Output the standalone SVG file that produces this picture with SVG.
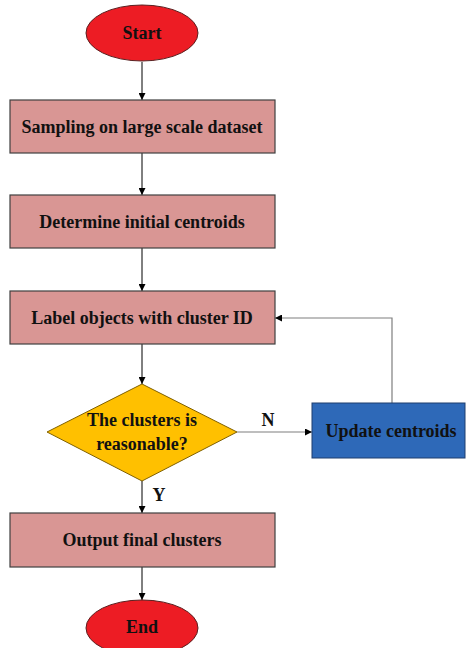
<svg xmlns="http://www.w3.org/2000/svg" width="467" height="648" viewBox="0 0 467 648">
<defs>
<marker id="ah" viewBox="0 0 8 8" refX="8" refY="4" markerWidth="7" markerHeight="7" markerUnits="userSpaceOnUse" orient="auto">
<path d="M0,0 L8,4 L0,8 z" fill="#000"/>
</marker>
</defs>
<style>
.t{font-family:"Liberation Serif","Times New Roman",serif;font-weight:bold;font-size:18px;fill:#111;text-anchor:middle;dominant-baseline:central}
.box{fill:#D99694;stroke:#404040;stroke-width:1.2}
.term{fill:#ED1C24;stroke:#5a2020;stroke-width:1}
.c{fill:none;stroke:#000;stroke-width:1}
.g{fill:none;stroke:#7f7f7f;stroke-width:1.2}
</style>
<rect width="467" height="648" fill="#fff"/>
<g id="connectors">
<path class="c" d="M142,62 V100" marker-end="url(#ah)"/>
<path class="c" d="M142,153 V195" marker-end="url(#ah)"/>
<path class="c" d="M142,248 V291" marker-end="url(#ah)"/>
<path class="c" d="M142,344 V384" marker-end="url(#ah)"/>
<path class="g" d="M237,432 H312" marker-end="url(#ah)"/>
<path class="g" d="M392,403 V318 H275" marker-end="url(#ah)"/>
<path class="c" d="M142,481 V513" marker-end="url(#ah)"/>
<path class="c" d="M142,567 V600" marker-end="url(#ah)"/>
<text class="t" x="268" y="420">N</text>
<text class="t" x="159" y="495">Y</text>
</g>
<g id="start">
<ellipse class="term" cx="142" cy="33" rx="56" ry="28"/>
<text class="t" x="142" y="33">Start</text>
</g>
<g id="sampling">
<rect class="box" x="10" y="100" width="265" height="53"/>
<text class="t" x="142" y="127">Sampling on large scale dataset</text>
</g>
<g id="init">
<rect class="box" x="10" y="195" width="265" height="53"/>
<text class="t" x="142" y="222">Determine initial centroids</text>
</g>
<g id="label">
<rect class="box" x="10" y="291" width="265" height="53"/>
<text class="t" x="142" y="318">Label objects with cluster ID</text>
</g>
<g id="decision">
<polygon points="142,384 237,432 142,481 47,432" fill="#FFC000" stroke="#7f6000" stroke-width="1"/>
<text class="t" x="142" y="420">The clusters is</text>
<text class="t" x="142" y="444">reasonable?</text>
</g>
<g id="update">
<rect x="312" y="403" width="153" height="55" fill="#2E69B8" stroke="#1f3f6f" stroke-width="1"/>
<text class="t" x="391" y="431">Update centroids</text>
</g>
<g id="output">
<rect class="box" x="10" y="513" width="265" height="54"/>
<text class="t" x="142" y="540">Output final clusters</text>
</g>
<g id="end">
<ellipse class="term" cx="142" cy="628" rx="56" ry="28"/>
<text class="t" x="142" y="627">End</text>
</g>
</svg>
